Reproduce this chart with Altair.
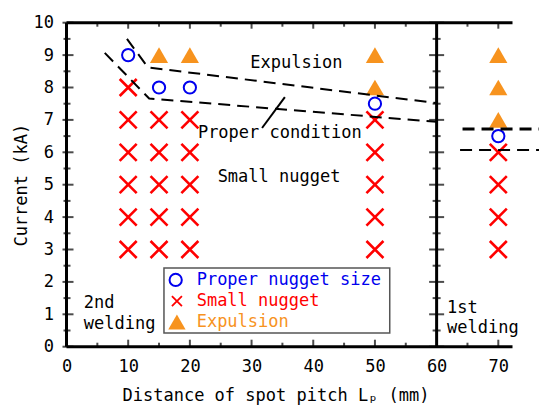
import altair as alt
import pandas as pd

FONT = "DejaVu Sans Mono"
BLUE = "#0000ee"
RED = "#ff0000"
ORANGE = "#f7931e"

# ---- data ----
proper_x = [10, 15, 20, 50, 70]
proper_y = [9, 8, 8, 7.5, 6.5]

small_x = [10] * 6 + [15] * 5 + [20] * 5 + [50] * 5 + [70] * 4
small_y = [3, 4, 5, 6, 7, 8] + [3, 4, 5, 6, 7] * 3 + [3, 4, 5, 6]

exp_x = [15, 20, 50, 50, 70, 70, 70]
exp_y = [9, 9, 8, 9, 7, 8, 9]

# boundary lines (2nd welding)
upper_x = [9.8, 13.2, 60]
upper_y = [9.5, 8.62, 7.52]
lower_x = [6.2, 13.4, 60]
lower_y = [9.07, 7.66, 6.94]
# pointer line
pointer_x = [31.7, 35.4]
pointer_y = [6.75, 7.7]
# boundary lines (1st welding)
r_upper_x = [64.2, 78]
r_upper_y = [6.72, 6.72]
r_lower_x = [63.8, 78]
r_lower_y = [6.07, 6.07]

x_ticks = [0, 10, 20, 30, 40, 50, 60, 70]
y_ticks = list(range(0, 11))
y_minor = [i + 0.5 for i in range(10)]
x_major_in = [10, 20, 30, 40, 50, 70]
x_minor_in = [5, 15, 25, 35, 45, 55, 65]

XMAX = 72.3
xs = alt.Scale(domain=[0, XMAX], nice=False, zero=False)
ys = alt.Scale(domain=[0, 10], nice=False, zero=False)

X_AXIS = alt.Axis(values=x_ticks, domain=False, ticks=False, grid=False,
                  labelOverlap=False, labelFlush=False,
                  labelFont=FONT, labelFontSize=17, labelColor="black",
                  labelPadding=12, title="Distance of spot pitch Lₚ (mm)",
                  titleFont=FONT, titleFontSize=17, titleFontWeight="normal",
                  titleColor="black", titleX=209, titlePadding=13)
Y_AXIS = alt.Axis(values=y_ticks, domain=False, ticks=False, grid=False,
                  labelOverlap=False, labelFlush=False,
                  labelFont=FONT, labelFontSize=17, labelColor="black",
                  labelPadding=13, title="Current (kA)",
                  titleFont=FONT, titleFontSize=17, titleFontWeight="normal",
                  titleColor="black", titlePadding=3)

X = lambda f="x": alt.X(f"{f}:Q", scale=xs, axis=X_AXIS)
Y = lambda f="y": alt.Y(f"{f}:Q", scale=ys, axis=Y_AXIS)

# frame lines
frame_df = pd.DataFrame({
    "x": [0, 0, 0, 60],
    "x2": [XMAX, XMAX, 0, 60],
    "y": [0, 10, 0, 0],
    "y2": [0, 10, 10, 10],
})
frame = alt.Chart(frame_df).mark_rule(color="black", strokeWidth=3).encode(
    x=X(), x2="x2:Q", y=Y(), y2="y2:Q")

def vticks(xvals, yval, size, off):
    d = pd.DataFrame({"x": xvals, "y": [yval] * len(xvals)})
    return alt.Chart(d).mark_tick(orient="vertical", size=size, thickness=2,
                                  color="black", yOffset=off).encode(x=X(), y=Y())

def hticks(xval, yvals, size, off):
    d = pd.DataFrame({"x": [xval] * len(yvals), "y": yvals})
    return alt.Chart(d).mark_tick(orient="horizontal", size=size, thickness=2,
                                  color="black", xOffset=off).encode(x=X(), y=Y())

tick_layers = [
    vticks(x_major_in, 0, 7, -3.5),
    vticks(x_minor_in, 0, 4, -2),
    vticks(x_major_in, 10, 6, 3),
    vticks(x_minor_in, 10, 4, 2),
    hticks(0, y_ticks, 11, 1.5),
    hticks(0, y_minor, 7, 0.5),
    hticks(60, y_ticks, 15, 0),
    hticks(60, y_minor, 8, 0),
]

# data marks
small_df = pd.DataFrame({"x": small_x, "y": small_y})
proper_df = pd.DataFrame({"x": proper_x, "y": proper_y})
exp_df = pd.DataFrame({"x": exp_x, "y": exp_y})

XPATH = "M-1,-1L1,1M-1,1L1,-1"
small = alt.Chart(small_df).mark_point(shape=XPATH, filled=False, color=RED,
                                       strokeWidth=2.6, size=289, opacity=1).encode(x=X(), y=Y())
proper = alt.Chart(proper_df).mark_point(shape="circle", filled=False, color=BLUE,
                                         strokeWidth=2, size=150, opacity=1).encode(x=X(), y=Y())
expl = alt.Chart(exp_df).mark_point(shape="triangle-up", filled=True, color=ORANGE,
                                    size=330, opacity=1).encode(x=X(), y=Y())

# boundary lines
def poly(xv, yv, name):
    return pd.DataFrame({"x": xv, "y": yv, "g": [name] * len(xv), "o": list(range(len(xv)))})

dash_df = pd.concat([poly(upper_x, upper_y, "u"), poly(lower_x, lower_y, "l"),
                     poly(r_lower_x, r_lower_y, "rl")])
dashed = alt.Chart(dash_df).mark_line(color="black", strokeWidth=2, strokeDash=[12, 7]).encode(
    x=X(), y=Y(), detail="g:N", order="o:Q")
dashed_thick = alt.Chart(poly(r_upper_x, r_upper_y, "ru")).mark_line(
    color="black", strokeWidth=3, strokeDash=[12, 7]).encode(x=X(), y=Y(), detail="g:N", order="o:Q")
pointer = alt.Chart(poly(pointer_x, pointer_y, "p")).mark_line(
    color="black", strokeWidth=2).encode(x=X(), y=Y(), order="o:Q")

# annotation texts
ann_df = pd.DataFrame({
    "x": [29.8, 21.3, 24.5],
    "y": [8.75, 6.6, 5.23],
    "t": ["Expulsion", "Proper condition", "Small nugget"],
})
ann = alt.Chart(ann_df).mark_text(font=FONT, fontSize=17, align="left", baseline="middle",
                                  color="black").encode(x=X(), y=Y(), text="t:N")
weld_df = pd.DataFrame({
    "x": [2.8, 2.8, 61.7, 61.7],
    "y": [1.19, 0.55, 1.04, 0.42],
    "t": ["2nd", "welding", "1st", "welding"],
})
weld = alt.Chart(weld_df).mark_text(font=FONT, fontSize=17, align="left", baseline="alphabetic",
                                    color="black").encode(x=X(), y=Y(), text="t:N")

# legend
leg_box = alt.Chart(pd.DataFrame({"x": [15.8], "x2": [52.4], "y": [0.42], "y2": [2.43]})).mark_rect(
    fill="white", stroke="#555555", strokeWidth=1.5).encode(x=X(), x2="x2:Q", y=Y(), y2="y2:Q")
leg_c = alt.Chart(pd.DataFrame({"x": [17.7], "y": [2.06]})).mark_point(
    shape="circle", filled=False, color=BLUE, strokeWidth=2, size=150, opacity=1).encode(x=X(), y=Y())
leg_x = alt.Chart(pd.DataFrame({"x": [17.9], "y": [1.41]})).mark_point(
    shape=XPATH, filled=False, color=RED, strokeWidth=1.8, size=100, opacity=1).encode(x=X(), y=Y())
leg_t = alt.Chart(pd.DataFrame({"x": [17.9], "y": [0.76]})).mark_point(
    shape="triangle-up", filled=True, color=ORANGE, size=300, opacity=1).encode(x=X(), y=Y())
leg_labels = ["Proper nugget size", "Small nugget", "Expulsion"]
leg_colors = [BLUE, RED, ORANGE]
leg_txt_df = pd.DataFrame({"x": [21.1] * 3, "y": [2.06, 1.41, 0.76], "t": leg_labels, "c": leg_colors})
leg_txt = alt.Chart(leg_txt_df).mark_text(font=FONT, fontSize=17, align="left",
                                          baseline="middle").encode(
    x=X(), y=Y(), text="t:N", color=alt.Color("c:N", scale=None))

chart = alt.layer(
    small, proper, expl, dashed, dashed_thick, pointer, ann, weld,
    leg_box, leg_c, leg_x, leg_t, leg_txt, frame, *tick_layers
).properties(
    width=446, height=324,
    autosize="none",
    padding={"left": 66.5, "top": 22.7, "right": 26.5, "bottom": 58.3},
    background="white",
).configure_view(stroke=None)

chart.save("out.html", embed_options={"renderer": "svg", "actions": False})
